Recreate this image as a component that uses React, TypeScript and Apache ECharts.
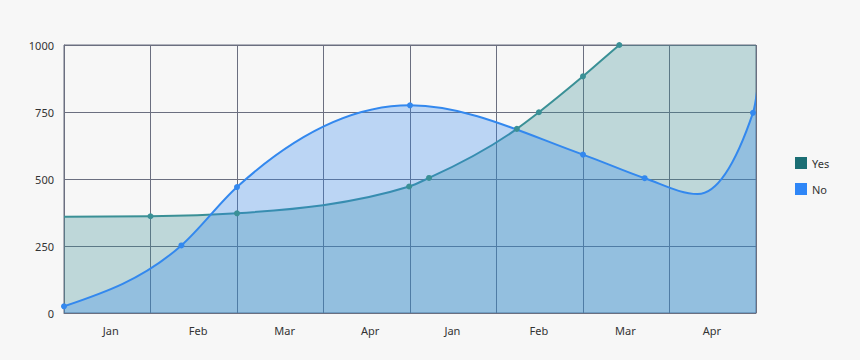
import React, { useEffect, useRef } from "react";
import * as echarts from "echarts";

const months = ["Jan", "Feb", "Mar", "Apr", "Jan", "Feb", "Mar", "Apr"];
const monthLabelAt = [0.54, 1.55, 2.55, 3.54, 4.49, 5.49, 6.49, 7.49];
const yTickMax = 1000;
const yTickStep = 250;

// Yes series (x in month-band units, y values); first and last points lie outside the plot
const yesX = [-1, 1.0, 2.0, 3.99, 4.22, 5.235, 5.49, 6.0, 6.42, 7.0, 8.5];
const yesY = [358, 361, 372, 472, 504, 687, 749, 883, 1000, 1150, 1500];

// No series; last point lies outside the plot
const noX = [0, 1.357, 2.0, 4.0, 6.0, 6.713, 7.326, 7.965, 8.2];
const noY = [25, 252, 470, 775, 591, 503, 444, 747, 1600];
const noCurveOnly = [6]; // curve minimum, drawn without marker

const FONT = "Noto Sans";

function monotonePath(pts: number[][]): string {
  const n = pts.length;
  const h: number[] = [];
  const s: number[] = [];
  for (let i = 0; i < n - 1; i++) {
    h[i] = pts[i + 1][0] - pts[i][0];
    s[i] = (pts[i + 1][1] - pts[i][1]) / h[i];
  }
  const m: number[] = new Array(n).fill(0);
  for (let i = 1; i < n - 1; i++) {
    const p = (s[i - 1] * h[i] + s[i] * h[i - 1]) / (h[i - 1] + h[i]);
    m[i] =
      (Math.sign(s[i - 1]) + Math.sign(s[i])) *
        Math.min(Math.abs(s[i - 1]), Math.abs(s[i]), 0.5 * Math.abs(p)) || 0;
  }
  m[0] = n > 2 ? (3 * s[0] - m[1]) / 2 : s[0];
  m[n - 1] = n > 2 ? (3 * s[n - 2] - m[n - 2]) / 2 : s[n - 2];
  let d = `M${pts[0][0]},${pts[0][1]}`;
  for (let i = 0; i < n - 1; i++) {
    const dx = h[i] / 3;
    d += ` C${pts[i][0] + dx},${pts[i][1] + m[i] * dx} ${pts[i + 1][0] - dx},${
      pts[i + 1][1] - m[i + 1] * dx
    } ${pts[i + 1][0]},${pts[i + 1][1]}`;
  }
  return d;
}

function curveSeries(name: string, xs: number[], ys: number[], stroke: string, fill: string) {
  return {
    name,
    type: "custom",
    xAxisIndex: 0,
    clip: true,
    silent: true,
    data: xs.map((x, i) => [x, ys[i]]),
    renderItem: (params: any, api: any) => {
      if (params.dataIndex !== 0) return null;
      const pts = xs.map((x, i) => api.coord([x, ys[i]]));
      const d = monotonePath(pts);
      const base = api.coord([0, 0])[1];
      const n = pts.length;
      const area = `${d} L${pts[n - 1][0]},${base} L${pts[0][0]},${base} Z`;
      return {
        type: "group",
        children: [
          { type: "path", shape: { pathData: area }, style: { fill, stroke: null } },
          { type: "path", shape: { pathData: d }, style: { fill: null, stroke, lineWidth: 2 } },
        ],
      };
    },
  };
}

export default function App() {
  const ref = useRef<HTMLDivElement>(null);
  useEffect(() => {
    document.body.style.margin = "0";
    const chart = echarts.init(ref.current!, undefined, { renderer: "svg" });
    const gridColor = "#6b6f80";
    const yesColor = "#3a9096";
    const noColor = "#3388ee";
    chart.setOption({
      animation: false,
      backgroundColor: "#f7f7f7",
      grid: {
        left: 64,
        top: 45,
        right: 104,
        bottom: 47,
        show: true,
        borderColor: gridColor,
        borderWidth: 1,
        backgroundColor: "transparent",
      },
      legend: {
        orient: "vertical",
        left: 795,
        top: 157,
        padding: 0,
        itemWidth: 12,
        itemHeight: 12,
        itemGap: 14,
        icon: "rect",
        textStyle: { fontFamily: FONT, fontSize: 11, color: "#333" },
        data: [
          { name: "Yes", itemStyle: { color: "#1b6e74" } },
          { name: "No", itemStyle: { color: "#2e86f7" } },
        ],
      },
      xAxis: [
        {
          type: "value",
          min: 0,
          max: months.length,
          interval: 1,
          axisLabel: { show: false },
          axisTick: { show: false },
          axisLine: { show: true, lineStyle: { color: gridColor } },
          splitLine: { show: true, lineStyle: { color: gridColor, width: 1 } },
        },
        {
          type: "value",
          position: "bottom",
          min: 0,
          max: months.length,
          axisTick: { show: false },
          axisLine: { show: false },
          splitLine: { show: false },
          axisLabel: {
            margin: 12,
            fontFamily: FONT,
            fontSize: 11,
            color: "#333",
            customValues: monthLabelAt,
            formatter: (v: number) => {
              let best = 0;
              monthLabelAt.forEach((p, i) => {
                if (Math.abs(p - v) < Math.abs(monthLabelAt[best] - v)) best = i;
              });
              return months[best];
            },
          },
        },
      ],
      yAxis: {
        type: "value",
        min: 0,
        max: yTickMax,
        interval: yTickStep,
        axisLine: { show: true, lineStyle: { color: gridColor } },
        axisTick: { show: false },
        splitLine: { show: true, lineStyle: { color: gridColor, width: 1 } },
        axisLabel: {
          margin: 10,
          fontFamily: FONT,
          fontSize: 11,
          color: "#333",
          formatter: (v: number) => String(v),
        },
      },
      series: [
        curveSeries("Yes", yesX, yesY, yesColor, "rgba(58,144,150,0.3)"),
        curveSeries("No", noX, noY, noColor, "rgba(51,136,238,0.3)"),
        {
          name: "Yes",
          type: "scatter",
          xAxisIndex: 0,
          clip: true,
          symbol: "circle",
          symbolSize: 6,
          itemStyle: { color: yesColor, opacity: 1 },
          data: yesX.map((x, i) => [x, yesY[i]]),
        },
        {
          name: "No",
          type: "scatter",
          xAxisIndex: 0,
          clip: true,
          symbol: "circle",
          symbolSize: 6,
          itemStyle: { color: noColor, opacity: 1 },
          data: noX
            .map((x, i) => [x, noY[i]])
            .filter((_, i) => !noCurveOnly.includes(i)),
        },
      ],
    });
    return () => chart.dispose();
  }, []);
  return <div ref={ref} style={{ width: 860, height: 360 }} />;
}
